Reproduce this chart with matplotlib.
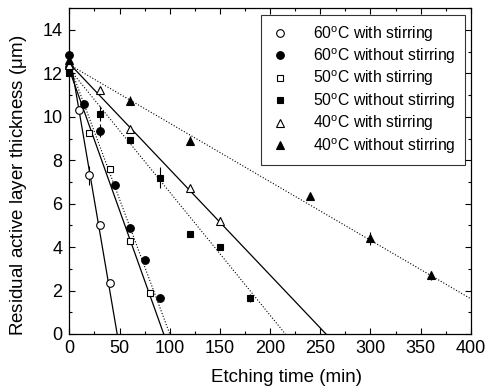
import numpy as np
import matplotlib
matplotlib.use('Agg')
import matplotlib.pyplot as plt
from matplotlib.ticker import MultipleLocator

plt.rcParams['font.family'] = ['Liberation Sans', 'DejaVu Sans']
plt.rcParams['mathtext.fontset'] = 'custom'
plt.rcParams['mathtext.rm'] = 'Liberation Sans'
plt.rcParams['mathtext.it'] = 'Liberation Sans:italic'

labels = ['60$^\\mathrm{o}$C with stirring', '60$^\\mathrm{o}$C without stirring',
          '50$^\\mathrm{o}$C with stirring', '50$^\\mathrm{o}$C without stirring',
          '40$^\\mathrm{o}$C with stirring', '40$^\\mathrm{o}$C without stirring']

# measured points (time in min, thickness in um)
t60w = [0, 10, 20, 30, 40]
y60w = [12.3, 10.3, 7.3, 5.0, 2.35]
e60w = [0, 0, 0.45, 0, 0]

t60n = [0, 15, 30, 45, 60, 75, 90]
y60n = [12.85, 10.6, 9.35, 6.85, 4.9, 3.4, 1.65]
e60n = [0, 0, 0.3, 0, 0, 0, 0]

t50w = [0, 20, 40, 60, 80]
y50w = [12.2, 9.25, 7.6, 4.3, 1.9]
e50w = [0, 0, 0, 0, 0]

t50n = [0, 30, 60, 90, 120, 150, 180]
y50n = [12.0, 10.15, 8.95, 7.2, 4.6, 4.0, 1.65]
e50n = [0, 0.35, 0, 0.5, 0, 0, 0.2]

t40w = [0, 30, 60, 120, 150]
y40w = [12.4, 11.25, 9.45, 6.7, 5.2]
e40w = [0, 0, 0, 0, 0.2]

t40n = [0, 60, 120, 240, 300, 360]
y40n = [12.6, 10.75, 8.9, 6.35, 4.4, 2.7]
e40n = [0, 0.2, 0.2, 0, 0.3, 0.2]

# linear fits: intercept, slope
fit_b = [12.9, 12.4, 12.16, 12.2, 12.45, 12.4]
fit_m = [-0.271, -0.124, -0.1294, -0.0567, -0.0487, -0.02695]

times = [t60w, t60n, t50w, t50n, t40w, t40n]
vals = [y60w, y60n, y50w, y50n, y40w, y40n]
errs = [e60w, e60n, e50w, e50n, e40w, e40n]
markers = ['o', 'o', 's', 's', '^', '^']
faces = ['white', 'black', 'white', 'black', 'white', 'black']
styles = ['-', ':', '-', ':', '-', ':']

fig = plt.figure(figsize=(4.86, 3.92), dpi=100)
ax = fig.add_axes([0.1428, 0.148, 0.826, 0.831])

tt = np.linspace(0, 400, 401)
for b, m, ls in zip(fit_b, fit_m, styles):
    ax.plot(tt, b + m * tt, color='black', ls=ls, lw=0.9 if ls == '-' else 0.8)

for t, v, e, mk, fc, lab in zip(times, vals, errs, markers, faces, labels):
    ax.errorbar(t, v, yerr=e, fmt='none', ecolor='black', elinewidth=0.8, capsize=0, clip_on=False)
    ax.plot(t, v, ls='none', marker=mk, ms=5.5 if mk != 's' else 5, mfc=fc, mec='black',
            mew=0.8, label=lab, clip_on=False, zorder=5)

ax.set_xlim(0, 400)
ax.set_ylim(0, 15)
ax.xaxis.set_major_locator(MultipleLocator(50))
ax.xaxis.set_minor_locator(MultipleLocator(25))
ax.yaxis.set_major_locator(MultipleLocator(2))
ax.yaxis.set_minor_locator(MultipleLocator(1))
ax.tick_params(which='both', direction='in', top=True, right=True, labelsize=13)
ax.tick_params(which='major', length=4, width=0.8)
ax.tick_params(axis='x', which='major', pad=4)
ax.tick_params(axis='y', which='major', pad=5)
ax.tick_params(which='minor', length=2.5, width=0.8)
for sp in ax.spines.values():
    sp.set_linewidth(0.9)

ax.set_xlabel('Etching time (min)', fontsize=13.5)
ax.set_ylabel('Residual active layer thickness ($\\mathrm{\\mu}$m)', fontsize=13.5)
ax.xaxis.set_label_coords(0.54, -0.107)
ax.yaxis.set_label_coords(-0.10, 0.455)

leg = ax.legend(loc='upper right', fontsize=11.3, frameon=True, fancybox=False, edgecolor='black',
                labelspacing=0.18, handletextpad=1.5, handlelength=1.2, borderpad=0.6,
                borderaxespad=0.4)
leg.get_frame().set_linewidth(0.8)

fig.savefig('out.png', dpi=100)
